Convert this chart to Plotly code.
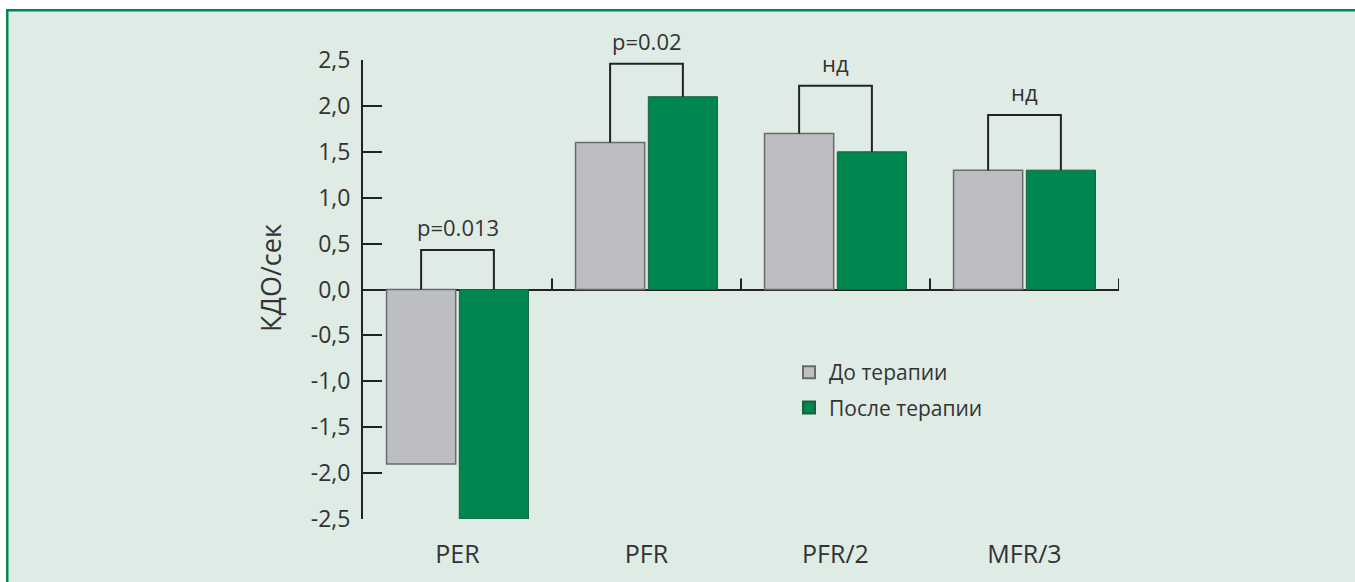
import plotly.graph_objects as go

# Data
categories = ["PER", "PFR", "PFR/2", "MFR/3"]
before = [-1.9, 1.6, 1.7, 1.3]
after = [-2.5, 2.1, 1.5, 1.3]
bracket_top = [0.43, 2.46, 2.22, 1.90]
bracket_labels = ["p=0.013", "p=0.02", "нд", "нд"]
y_ticks = [2.5, 2.0, 1.5, 1.0, 0.5, 0.0, -0.5, -1.0, -1.5, -2.0, -2.5]
y_tick_text = ["2,5", "2,0", "1,5", "1,0", "0,5", "0,0", "-0,5", "-1,0", "-1,5", "-2,0", "-2,5"]

W, H = 1355, 582
L, R, T, B = 363, 236, 60, 63
PW, PH = W - L - R, H - T - B

FONT = "Open Sans"
TXT = "#333333"
LINE = "#222222"
GREY = "#bdbec2"
GREEN = "#00864f"
BG = "#dfece5"

BARGAP = 0.23
half = (1 - BARGAP) / 4  # offset of each bar centre from the category centre

xs = list(range(len(categories)))

def px_x(p):
    return (p - L) / PW

def px_y(p):
    return (H - B - p) / PH

fig = go.Figure()
fig.add_trace(go.Bar(
    x=xs, y=before, name="До терапии", legendgroup="before",
    marker=dict(color=GREY, line=dict(color="#6a6a6a", width=1.5)),
))
fig.add_trace(go.Bar(
    x=xs, y=after, name="После терапии", legendgroup="after",
    marker=dict(color=GREEN, line=dict(color="#1d5e3f", width=1)),
))

# Significance brackets between paired bars
annotations = []
for i, (b, a, top, lab) in enumerate(zip(before, after, bracket_top, bracket_labels)):
    xl, xr = i - half, i + half
    fig.add_trace(go.Scatter(
        x=[xl, xl, xr, xr], y=[max(b, 0), top, top, max(a, 0)],
        mode="lines", line=dict(color=LINE, width=2),
        showlegend=False, hoverinfo="skip", cliponaxis=False,
    ))
    annotations.append(dict(
        x=i, y=top, xref="x", yref="y", text=lab, showarrow=False,
        yanchor="middle", yshift=23, font=dict(family=FONT, size=22, color=TXT),
    ))

# Y axis title
annotations.append(dict(
    x=px_x(270), y=px_y(278), xref="paper", yref="paper", text="КДО/сек",
    textangle=-90, showarrow=False, xanchor="center", yanchor="middle",
    font=dict(family=FONT, size=27, color=TXT),
))

NOLINE = dict(width=0, color="rgba(0,0,0,0)")
shapes = [
    # white page margin above and left of the tinted panel
    dict(type="rect", xref="paper", yref="paper", x0=px_x(0), x1=px_x(W),
         y0=px_y(9), y1=px_y(0), fillcolor="white", line=NOLINE, layer="below"),
    dict(type="rect", xref="paper", yref="paper", x0=px_x(0), x1=px_x(6),
         y0=px_y(H), y1=px_y(0), fillcolor="white", line=NOLINE, layer="below"),
    # green frame bands on top and left
    dict(type="rect", xref="paper", yref="paper", x0=px_x(6), x1=px_x(W),
         y0=px_y(11.5), y1=px_y(9), fillcolor=GREEN, line=NOLINE, layer="below"),
    dict(type="rect", xref="paper", yref="paper", x0=px_x(6), x1=px_x(8.5),
         y0=px_y(H), y1=px_y(9), fillcolor=GREEN, line=NOLINE, layer="below"),
]
# small upward ticks at category boundaries on the zero line
for k in range(1, len(categories) + 1):
    shapes.append(dict(type="line", xref="x", yref="y", x0=k - 0.5, x1=k - 0.5,
                       y0=0, y1=0.12, line=dict(color=LINE, width=2)))

fig.update_layout(
    width=W, height=H,
    margin=dict(l=L, r=R, t=T, b=B, autoexpand=False),
    paper_bgcolor=BG, plot_bgcolor="rgba(0,0,0,0)",
    barmode="group", bargap=BARGAP, bargroupgap=0.05,
    font=dict(family=FONT, color=TXT),
    showlegend=True,
    legend=dict(
        x=px_x(789), y=px_y(352), xanchor="left", yanchor="top",
        bgcolor="rgba(0,0,0,0)", font=dict(family=FONT, size=21, color=TXT),
        itemsizing="constant", traceorder="grouped", tracegroupgap=5,
    ),
    xaxis=dict(
        range=[-0.5, len(categories) - 0.5], tickvals=xs, ticktext=categories,
        showline=False, showgrid=False, zeroline=False, ticks="",
        tickfont=dict(family=FONT, size=25, color=TXT), ticklabelstandoff=18,
        fixedrange=True,
    ),
    yaxis=dict(
        range=[-2.5, 2.5], tickvals=y_ticks, ticktext=y_tick_text,
        showline=True, linecolor=LINE, linewidth=2,
        ticks="inside", ticklen=19, tickwidth=2, tickcolor=LINE,
        showgrid=False, zeroline=True, zerolinecolor=LINE, zerolinewidth=2,
        tickfont=dict(family=FONT, size=23, color=TXT), ticklabelstandoff=6,
        fixedrange=True,
    ),
    shapes=shapes,
    annotations=annotations,
)

fig.write_html("out.html")
